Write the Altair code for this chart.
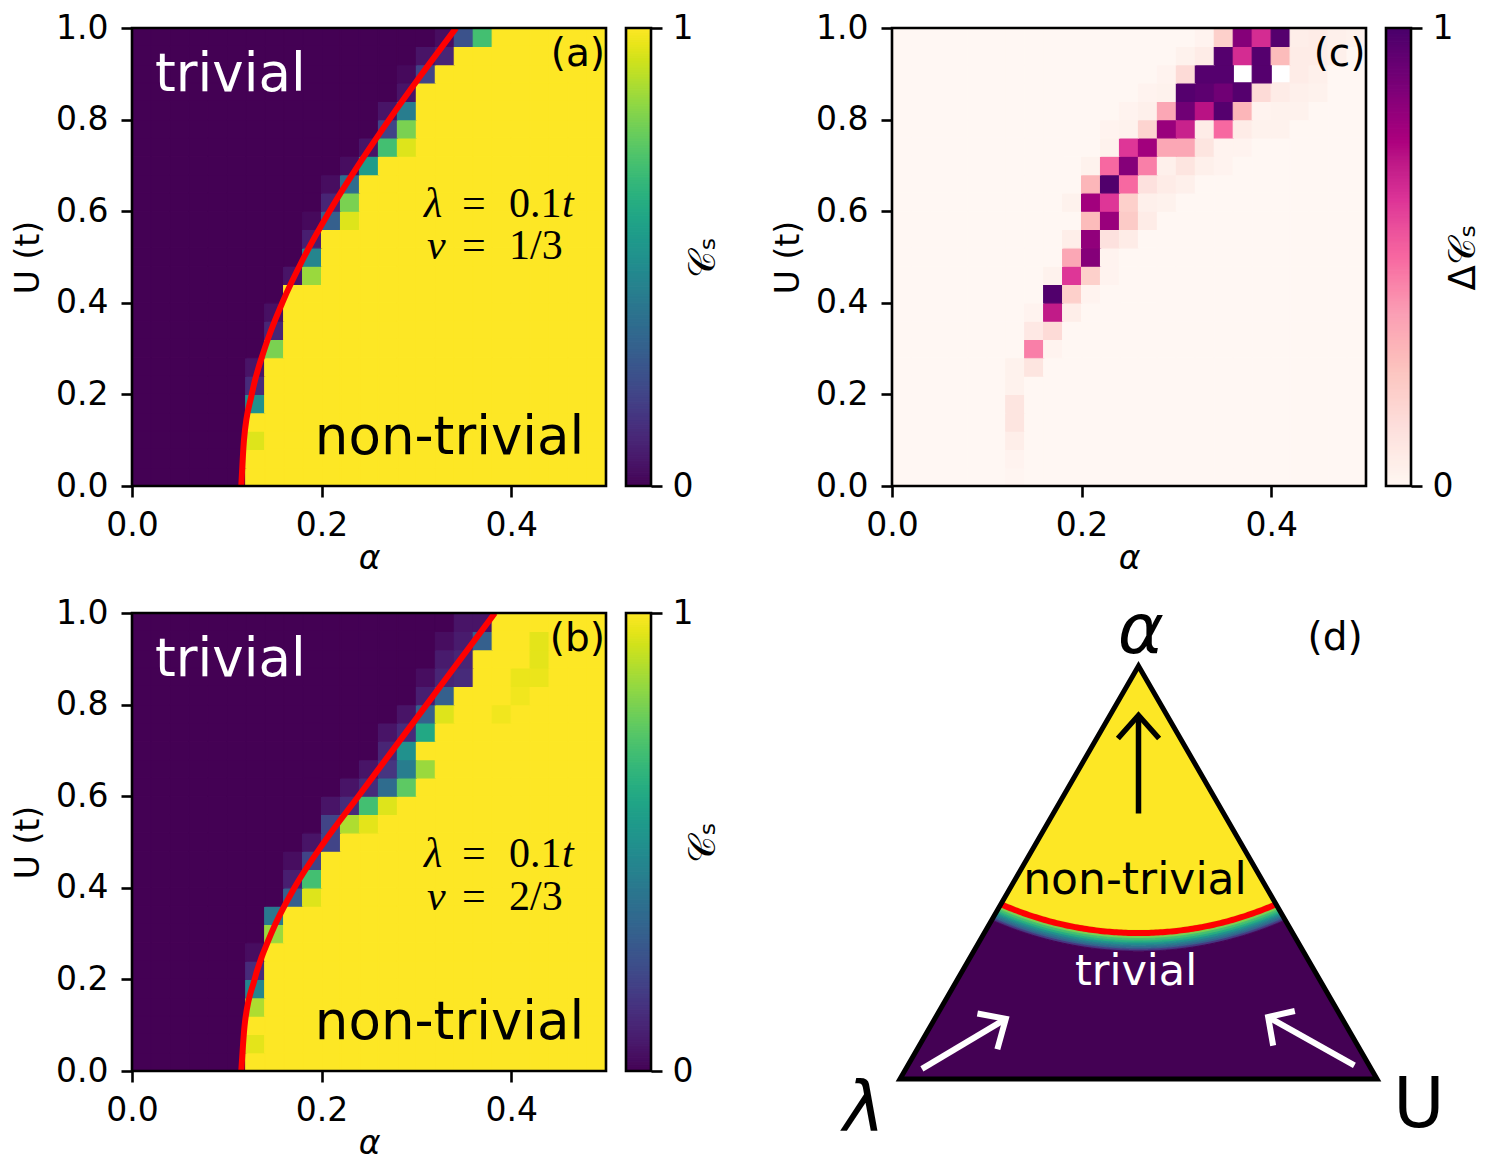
import altair as alt
import numpy as np
import pandas as pd

# ------------------------------------------------------------------ data
ALPHA_STEP = 0.02   # alpha width of one cell
U_STEP = 0.04       # U height of one cell
N_ALPHA = 25
N_U = 25

# (a)  C_s for nu = 1/3.  For every U row (bottom -> top): first alpha column of the
# crossover and the values read there; cells left of it are 0, cells after the list are 1
a_start = [6, 6, 6, 6, 6, 6, 6, 6, 7, 7, 8, 8, 8, 9, 9, 10, 10, 11, 12, 13, 13, 14, 14, 15, 16]
a_vals = [[], [], [0.95], [], [0.5], [0.12], [0.05], [0.0, 0.8], [0.1], [0.04], [],
          [0.05, 0.85], [0.0, 0.45], [0.08], [0.02, 0.3, 0.95], [0.1, 0.8], [0.03, 0.35],
          [0.03, 0.55], [0.05, 0.7, 0.95], [0.2, 0.8], [0.05, 0.42], [0.05], [0.02, 0.2],
          [0.05, 0.1], [0.03, 0.25, 0.7]]

# (b)  C_s for nu = 2/3
b_start = [6, 6, 6, 6, 6, 6, 6, 7, 7, 8, 8, 8, 9, 10, 10, 11, 12, 13, 13, 14, 15, 15, 16, 16, 17]
b_vals = [[], [0.96], [], [0.88], [0.45], [0.12], [0.03], [0.85], [0.4], [0.3, 0.95],
          [0.08, 0.7], [0.03, 0.2], [0.05, 0.2], [0.2, 0.88, 0.96], [0.05, 0.12, 0.7, 0.95],
          [0.05, 0.12, 0.35, 0.75], [0.05, 0.15, 0.42, 0.85], [0.1, 0.5], [0.05, 0.12, 0.6],
          [0.05, 0.3, 0.95, 1, 1, 0.98], [0.08, 0.3, 1, 1, 1, 0.98],
          [0.03, 0.1, 0.12, 1, 1, 0.97, 0.97], [0.07, 0.1, 1, 1, 1, 0.96],
          [0.03, 0.07, 0.3, 1, 1, 0.96], [0.05, 0.05]]

# (c)  Delta C_s; cells outside the lists are 0, None = no value (blank cell)
c_start = [6, 6, 6, 6, 6, 6, 6, 6, 7, 7, 8, 8, 9, 9, 10, 9, 10, 10, 11, 11, 12, 13, 14, 15, 16]
c_vals = [[0.01], [0.02], [0.05], [0.1], [0.1], [0.03], [0.03, 0.1], [0.0, 0.45, 0.02],
          [0.08, 0.15], [0.02, 0.7, 0.05], [0.98, 0.2, 0.02], [0.03, 0.62, 0.2, 0.02],
          [0.35, 0.85, 0.02], [0.05, 0.82, 0.12, 0.06], [0.28, 0.8, 0.22, 0.06],
          [0.03, 0.78, 0.62, 0.2, 0.04, 0.03], [0.3, 0.98, 0.5, 0.12, 0.06, 0.04],
          [0.03, 0.5, 0.85, 0.45, 0.04, 0.1, 0.04, 0.02],
          [0.03, 0.62, 0.78, 0.35, 0.35, 0.1, 0.02, 0.02],
          [0.02, 0.03, 0.18, 0.8, 0.68, 0.06, 0.5, 0.06, 0.03, 0.03],
          [0.02, 0.04, 0.35, 0.9, 0.72, 0.97, 0.3, 0.02, 0.03, 0.03],
          [0.02, 0.03, 0.97, 0.95, 0.9, 0.97, 0.15, 0.06, 0.04, 0.03],
          [0.02, 0.15, 0.97, 0.97, None, 0.97, None, 0.06, 0.04],
          [0.03, 0.06, 0.97, 0.65, 0.97, 0.28, 0.06, 0.06, 0.04],
          [0.02, 0.2, 0.85, 0.65, 0.97, 0.05, 0.06, 0.04, 0.03]]

# red phase-boundary curves (alpha_c as a function of U)
red_a_u = [0.0, 0.1, 0.2, 0.3, 0.4, 0.5, 0.6, 0.7, 0.8, 0.9, 1.0]
red_a_alpha = [0.1153, 0.1181, 0.1263, 0.1399, 0.1585, 0.1815, 0.2084, 0.2386, 0.2713, 0.3059, 0.3418]
red_b_u = [0.0, 0.1, 0.2, 0.3, 0.4, 0.5, 0.6, 0.7, 0.8, 0.9, 1.0]
red_b_alpha = [0.1153, 0.1188, 0.1293, 0.1468, 0.1713, 0.2028, 0.2388, 0.2748, 0.3108, 0.3468, 0.3828]

# (d) schematic: equilateral triangle of unit side, curved boundary (circle arc)
tri_x = [0.0, 1.0, 0.5, 0.0, 1.0]
tri_y = [0.0, 0.0, np.sqrt(3) / 2, 0.0, 0.0]
arc_cx, arc_cy, arc_r = 0.5, 1.0247, 0.7187
band_edges = [-0.006, 0.0, 0.006, 0.0115, 0.0165, 0.021, 0.0255, 0.03, 0.034, 0.038]
band_cs = [1.0, 0.95, 0.88, 0.8, 0.7, 0.62, 0.5, 0.4, 0.3, 0.15, 0.0]
arrow_black = {"shaft": ([0.5, 0.5], [0.5566, 0.7625]),
               "head": ([0.4568, 0.5, 0.5432], [0.7138, 0.7625, 0.7138])}
arrow_white = {"ls": ([0.0459, 0.2218], [0.0212, 0.1260]),
               "lh": ([0.1623, 0.2218, 0.2041], [0.1373, 0.1260, 0.0625]),
               "rs": ([0.9526, 0.7718], [0.0287, 0.1300]),
               "rh": ([0.8277, 0.7718, 0.7823], [0.1426, 0.1300, 0.0700])}

# ------------------------------------------------------------------ style / layout
FONT = "DejaVu Sans"
MATH = "Liberation Serif"
W, H = 474, 458
CB_X0, CB_X1 = W + 20, W + 45
FRAME_W = 2.6
TICK = 11
FS = 33
CELL_EDGE = 1.2
D_PX = 477.0                 # pixels per triangle side
D_X_LO = -8 / D_PX
D_Y_LO = 8 / D_PX
RDPU = ["#fff7f3", "#fde0dd", "#fcc5c0", "#fa9fb5", "#f768a1", "#dd3497", "#ae017e", "#7a0177", "#49006a"]
ONE = pd.DataFrame({"z": [0]})


def grid_frame(start, vals, right_value):
    recs = []
    for r in range(N_U):
        s, v = start[r], vals[r]
        for k in range(N_ALPHA):
            if k < s:
                val = 0.0
            elif k < s + len(v):
                val = v[k - s]
            else:
                val = right_value
            if val is None:
                continue
            recs.append({"a0": k * ALPHA_STEP, "a1": (k + 1) * ALPHA_STEP,
                         "u0": r * U_STEP, "u1": (r + 1) * U_STEP, "v": val})
    return pd.DataFrame(recs)


def color_scale(scheme):
    if scheme == "rdpu":
        return alt.Scale(domain=list(np.linspace(0, 1, len(RDPU))), range=RDPU)
    return alt.Scale(scheme=scheme, domain=[0, 1])


def heat_panel(df, scheme, red_alpha, red_u, annotations, cb_title):
    xs = alt.Scale(domain=[0, 0.5], nice=False, zero=False)
    ys = alt.Scale(domain=[0, 1], nice=False, zero=False)
    cs = color_scale(scheme)
    xa = alt.Axis(values=[0, 0.2, 0.4], format=".1f", title="α", titleFontStyle="italic",
                  labelFlush=False, labelOverlap=False, labelPadding=12, titlePadding=0)
    ya = alt.Axis(values=[0, 0.2, 0.4, 0.6, 0.8, 1.0], format=".1f", title="U (t)",
                  labelOverlap=False, labelPadding=13, titlePadding=10)

    def X(f):
        return alt.X(f, scale=xs, axis=xa)

    def Y(f):
        return alt.Y(f, scale=ys, axis=ya)

    layers = [alt.Chart(df).mark_rect(strokeWidth=CELL_EDGE).encode(
        x=X("a0:Q"), x2="a1:Q", y=Y("u0:Q"), y2="u1:Q",
        color=alt.Color("v:Q", scale=cs, legend=None),
        stroke=alt.Stroke("v:Q", scale=cs, legend=None))]
    if red_alpha is not None:
        rdf = pd.DataFrame({"a": red_alpha, "u": red_u, "i": list(range(len(red_u)))})
        layers.append(alt.Chart(rdf).mark_line(color="red", strokeWidth=6, interpolate="monotone",
                                               clip=True).encode(x=X("a:Q"), y=Y("u:Q"), order="i:Q"))
    for xv, yv, s, kw in annotations:
        tdf = pd.DataFrame({"x": [xv], "y": [yv], "t": [s]})
        layers.append(alt.Chart(tdf).mark_text(**kw).encode(x=X("x:Q"), y=Y("y:Q"), text="t:N"))
    layers.append(alt.Chart(ONE).mark_rect(filled=False, stroke="black", strokeWidth=FRAME_W).encode(
        x=alt.value(0), x2=alt.value(W), y=alt.value(0), y2=alt.value(H)))

    steps = np.linspace(0, 1, 201)
    cb_df = pd.DataFrame({"v0": steps[:-1], "v1": steps[1:], "vm": (steps[:-1] + steps[1:]) / 2})
    cba = alt.Axis(orient="right", offset=CB_X1 - W, values=[0, 1], format="d", title=cb_title,
                   titleAngle=270, titleBaseline="top", titleX=34, titleY=H / 2, labelPadding=10,
                   titleFontSize=37)
    cb = alt.Chart(cb_df).mark_rect(strokeWidth=CELL_EDGE).encode(
        x=alt.value(CB_X0), x2=alt.value(CB_X1),
        y=alt.Y("v0:Q", scale=alt.Scale(domain=[0, 1], nice=False, zero=False), axis=cba), y2="v1:Q",
        color=alt.Color("vm:Q", scale=cs, legend=None),
        stroke=alt.Stroke("vm:Q", scale=cs, legend=None))
    cb_frame = alt.Chart(ONE).mark_rect(filled=False, stroke="black", strokeWidth=FRAME_W).encode(
        x=alt.value(CB_X0), x2=alt.value(CB_X1), y=alt.value(0), y2=alt.value(H))
    return alt.layer(alt.layer(*layers), alt.layer(cb, cb_frame)).resolve_scale(
        y="independent").properties(width=W, height=H)


def txt(color="black", size=FS, align="left", font=FONT, style="normal"):
    return dict(color=color, fontSize=size, align=align, baseline="alphabetic", font=font, fontStyle=style)


def math_pieces(u1, u2, frac):
    it = dict(font=MATH, size=42, style="italic")
    up = dict(font=MATH, size=42)
    return [(0.3080, u1, "λ", txt(**it)), (0.3481, u1, "=", txt(**up)), (0.3977, u1, "0.1", txt(**up)),
            (0.4536, u1, "t", txt(**it)), (0.3112, u2, "ν", txt(**it)), (0.3481, u2, "=", txt(**up)),
            (0.3977, u2, frac, txt(**up))]


ann_a = [(0.0243, 0.862, "trivial", txt("white", 53)),
         (0.477, 0.069, "non-trivial", txt("black", 53, "right")),
         (0.499, 0.916, "(a)", txt("black", 39, "right"))] + math_pieces(0.5875, 0.4946, "1/3")
ann_b = [(0.0243, 0.862, "trivial", txt("white", 53)),
         (0.477, 0.069, "non-trivial", txt("black", 53, "right")),
         (0.499, 0.916, "(b)", txt("black", 39, "right"))] + math_pieces(0.445, 0.352, "2/3")
ann_c = [(0.4995, 0.916, "(c)", txt("black", 39, "right"))]

panel_a = heat_panel(grid_frame(a_start, a_vals, 1.0), "viridis", red_a_alpha, red_a_u, ann_a, "𝒞ₛ")
panel_b = heat_panel(grid_frame(b_start, b_vals, 1.0), "viridis", red_b_alpha, red_b_u, ann_b, "𝒞ₛ")
panel_c = heat_panel(grid_frame(c_start, c_vals, 0.0), "rdpu", None, None, ann_c, "Δ𝒞ₛ")


# ------------------------------------------------------------------ panel (d)
def edge(x):
    return np.sqrt(3) * np.minimum(x, 1 - x)


def arc_y(x, r):
    return arc_cy - np.sqrt(r * r - (x - arc_cx) ** 2)


xs_s = np.unique(np.concatenate([np.linspace(0, 1, 481), [0.5]]))
rad = [None] + [arc_r + e for e in band_edges] + [None]
band_rows = []
for i, cv in enumerate(band_cs):
    ra, rb = rad[i], rad[i + 1]
    for x in xs_s:
        top = edge(x)
        if ra is not None:
            top = min(top, arc_y(x, ra))
        bot = 0.0
        if rb is not None:
            bot = max(bot, arc_y(x, rb))
        if top < bot:
            top = bot = min(bot, edge(x))
        band_rows.append({"band": i, "x": x, "lo": bot, "hi": top, "cs": cv})
band_df = pd.DataFrame(band_rows)


def bisect(lo, hi):
    f = lambda x: arc_y(x, arc_r) - edge(x)
    flo = f(lo)
    for _ in range(60):
        mid = 0.5 * (lo + hi)
        if (f(mid) > 0) == (flo > 0):
            lo, flo = mid, f(mid)
        else:
            hi = mid
    return 0.5 * (lo + hi)


xl, xr = bisect(0.0, 0.5), bisect(1.0, 0.5)
arc_xs = np.linspace(xl, xr, 120)
arc_df = pd.DataFrame({"x": arc_xs, "y": arc_y(arc_xs, arc_r), "i": np.arange(len(arc_xs))})


def path_df(paths):
    rows = []
    for name, (px, py) in paths.items():
        for j, (x, y) in enumerate(zip(px, py)):
            rows.append({"p": name, "i": j, "x": x, "y": y})
    return pd.DataFrame(rows)


dxs = alt.Scale(domain=[D_X_LO, D_X_LO + W / D_PX], nice=False, zero=False)
dys = alt.Scale(domain=[D_Y_LO, D_Y_LO + H / D_PX], nice=False, zero=False)


def DX(f):
    return alt.X(f, scale=dxs, axis=None)


def DY(f):
    return alt.Y(f, scale=dys, axis=None, stack=False)


vs = alt.Scale(scheme="viridis", domain=[0, 1])
d_layers = [
    alt.Chart(band_df).mark_area(strokeWidth=1).encode(
        x=DX("x:Q"), y=DY("lo:Q"), y2="hi:Q", detail="band:N",
        color=alt.Color("cs:Q", scale=vs, legend=None),
        stroke=alt.Stroke("cs:Q", scale=vs, legend=None)),
    alt.Chart(arc_df).mark_line(color="red", strokeWidth=6).encode(x=DX("x:Q"), y=DY("y:Q"), order="i:Q"),
    alt.Chart(pd.DataFrame({"x": tri_x, "y": tri_y, "i": list(range(len(tri_x)))})).mark_line(
        color="black", strokeWidth=5, strokeJoin="miter").encode(x=DX("x:Q"), y=DY("y:Q"), order="i:Q"),
    alt.Chart(path_df(arrow_black)).mark_line(color="black", strokeWidth=5.5, strokeCap="butt").encode(
        x=DX("x:Q"), y=DY("y:Q"), detail="p:N", order="i:Q"),
    alt.Chart(path_df(arrow_white)).mark_line(color="white", strokeWidth=6, strokeCap="butt").encode(
        x=DX("x:Q"), y=DY("y:Q"), detail="p:N", order="i:Q"),
]
d_text = [(0.505, 0.893, "α", txt("black", 70, "center", style="italic")),
          (-0.0755, -0.109, "λ", txt("black", 70, "center", style="italic")),
          (1.088, -0.1006, "U", txt("black", 70, "center")),
          (0.912, 0.9004, "(d)", txt("black", 39, "center")),
          (0.4927, 0.3878, "non-trivial", txt("black", 44, "center")),
          (0.4948, 0.197, "trivial", txt("white", 43, "center"))]
for xv, yv, s, kw in d_text:
    tdf = pd.DataFrame({"x": [xv], "y": [yv], "t": [s]})
    d_layers.append(alt.Chart(tdf).mark_text(**kw).encode(x=DX("x:Q"), y=DY("y:Q"), text="t:N"))
panel_d = alt.layer(*d_layers).properties(width=W, height=H)

# ------------------------------------------------------------------ assemble
chart = alt.concat(
    panel_a, panel_c, panel_b, panel_d, columns=2,
    spacing={"row": 127, "column": 286}, bounds="flush",
).resolve_scale(color="independent", stroke="independent").properties(
    padding={"left": 4, "top": 4, "right": 4, "bottom": 0}, background="white"
).configure(font=FONT).configure_axis(
    labelFont=FONT, titleFont=FONT, labelFontSize=FS, titleFontSize=FS,
    labelColor="black", titleColor="black", tickColor="black", tickWidth=FRAME_W,
    tickSize=TICK, domain=False, grid=False, titleFontWeight="normal",
).configure_view(strokeWidth=0)

chart.save("out.html", embed_options={"renderer": "svg", "actions": False})
